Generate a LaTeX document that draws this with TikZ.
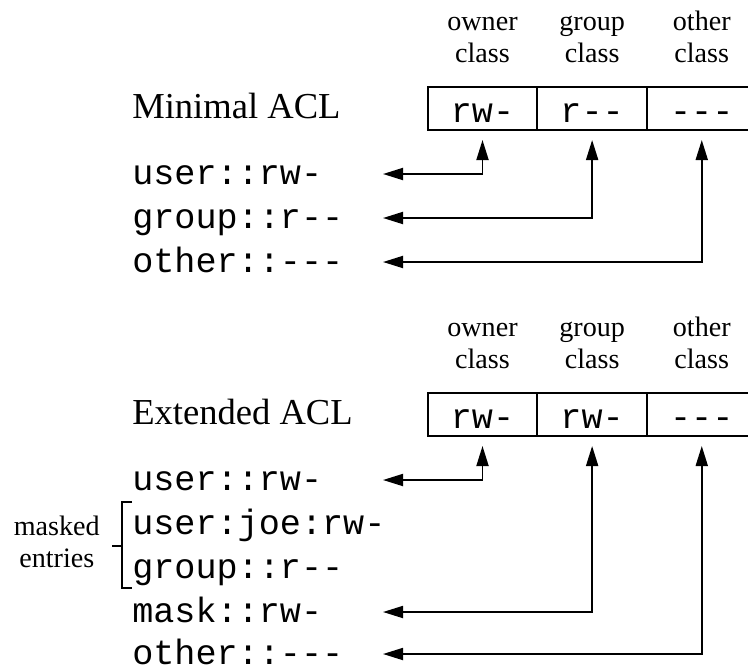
\documentclass[tikz,border=0pt]{standalone}
\usepackage{fontspec}
\setmainfont{Liberation Serif}
\setmonofont{Liberation Mono}
\usetikzlibrary{positioning,arrows.meta}

\begin{document}
\begin{tikzpicture}[x=0.025cm,y=-0.025cm,
    >={Triangle[length=0.5cm,width=0.3cm]},
    perm/.style={draw,line width=1.3pt,outer sep=0pt,inner sep=0pt,
        minimum width=2.74cm,minimum height=1.075cm,
        font=\ttfamily\fontsize{25}{30}\selectfont,text height=0.7cm,text depth=0cm},
    entry/.style={anchor=west,inner sep=0pt,
        font=\ttfamily\fontsize{25}{30}\selectfont,text height=0.7cm,text depth=0.16cm},
    cls/.style={align=center,inner sep=0pt,font=\fontsize{20}{23}\selectfont},
    title/.style={anchor=base west,inner sep=0pt,font=\fontsize{26}{30}\selectfont},
    link/.style={<->,line width=1.3pt}
    ]

            \useasboundingbox (0,0) rectangle (748,666);

            % minimal ACL
            \node[perm] (own1) at (482.5,108.5) {rw-};
            \node[perm,right=0pt of own1] (grp1) {r-{}-};
            \node[perm,right=0pt of grp1] (oth1) {-{}-{}-};

            \node[cls,above=0.6cm of own1] (own1l) {owner\\class};
            \node[cls,above=0.6cm of grp1] (grp1l) {group\\class};
            \node[cls,above=0.6cm of oth1] (oth1l) {other\\class};

            \node[title] (minimal) at (132,118) {Minimal ACL};

            \node[entry] (u1) at (132,174) {user::rw-};
            \node[entry] (g1) at (132,218) {group::r-{}-};
            \node[entry] (o1) at (132,262) {other::-{}-{}-};

            \coordinate (tip) at (383,0);

            \draw[link] ([yshift=-0.25cm]own1.south) |- (u1 -| tip);
            \draw[link] ([yshift=-0.25cm]grp1.south) |- (g1 -| tip);
            \draw[link] ([yshift=-0.25cm]oth1.south) |- (o1 -| tip);

            % extended ACL
            \node[perm] (own2) at (482.5,414.5) {rw-};
            \node[perm,right=0pt of own2] (grp2) {rw-};
            \node[perm,right=0pt of grp2] (oth2) {-{}-{}-};

            \node[cls,above=0.6cm of own2] (own2l) {owner\\class};
            \node[cls,above=0.6cm of grp2] (grp2l) {group\\class};
            \node[cls,above=0.6cm of oth2] (oth2l) {other\\class};

            \node[title] (extended) at (132,424) {Extended ACL};

            \node[entry] (u2) at (132,480) {user::rw-};
            \node[entry] (j2) at (132,524) {user:joe:rw-};
            \node[entry] (g2) at (132,568) {group::r-{}-};
            \node[entry] (m2) at (132,612) {mask::rw-};
            \node[entry] (o2) at (132,654) {other::-{}-{}-};

            \draw[link] ([yshift=-0.25cm]own2.south) |- (u2 -| tip);
            \draw[link] ([yshift=-0.25cm]grp2.south) |- (m2 -| tip);
            \draw[link] ([yshift=-0.25cm]oth2.south) |- (o2 -| tip);

            % bracket round the masked entries
            \draw[line width=1.2pt] ([yshift=0.12cm]j2.north west) -- ++(-10,0)
                |- ([yshift=-0.07cm]g2.south west);
            \path (j2.west) -- (g2.west) coordinate[pos=0.5] (brk);
            \draw[line width=1.2pt] ([xshift=-0.25cm]brk) -- ++(-10,0) coordinate (brkend);
            \node[cls,anchor=east,yshift=0.1cm] (masked) at ([xshift=-0.3cm]brkend) {masked\\entries};

\end{tikzpicture}
\end{document}
